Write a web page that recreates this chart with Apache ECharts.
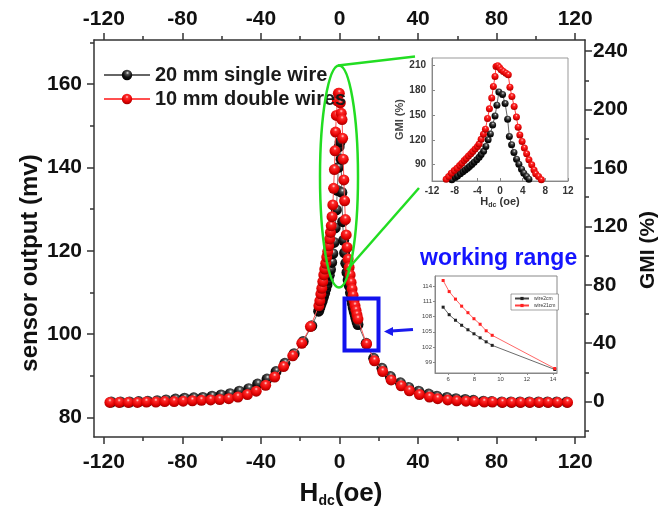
<!DOCTYPE html>
<html><head><meta charset="utf-8">
<script src="https://cdn.jsdelivr.net/npm/echarts@6/dist/echarts.min.js"></script>
<style>html,body{margin:0;padding:0;background:#fff}#c{width:661px;height:513px}</style>
</head><body><div id="c"></div>
<script>
// ---- main chart data: H_dc (oe) vs sensor output (mv)
const blackH = [-116.2,-111.5,-106.9,-102.2,-97.6,-92.8,-88.3,-83.5,-78.9,-74.2,-69.6,-64.9,-60.3,-55.7,-51.0,-46.2,-41.7,-36.9,-32.3,-27.8,-23.1,-18.5,-14.1,
  -10.6,-10.0,-9.4,-8.8,-8.2,-7.6,-7.0,-6.4,-5.8,-5.2,-4.6,-4.0,-3.4,-2.8,-2.2,-1.6,-1.1,-0.6,-0.2,0.3,0.8,1.2,1.6,2.1,2.6,3.2,3.8,4.4,5.0,5.6,6.1,6.6,7.0,7.5,8.0,8.4,8.9,9.4,
  13.6,17.4,21.6,25.9,31.0,35.2,40.3,45.4,49.6,54.7,59.3,64.0,68.2,73.3,77.5,82.6,87.3,91.9,96.6,101.3,105.9,110.6,115.7];
const blackMv = [83.7,83.7,83.7,83.8,83.9,84.0,84.2,84.4,84.6,84.7,84.8,85.1,85.4,85.7,86.3,86.9,88.0,89.2,91.0,93.0,95.3,98.2,102.0,
  105.5,106.4,107.2,108.0,108.9,109.8,110.8,111.8,112.9,114.1,115.5,117.2,119.3,122.0,125.5,129.8,134.5,140.0,145.0,146.1,142.0,134.0,127.0,122.5,119.5,117.0,114.8,113.0,111.6,109.9,108.4,107.3,106.3,105.4,104.6,103.8,103.0,102.3,
  97.8,94.2,91.8,89.8,88.3,87.2,86.3,85.6,85.1,84.8,84.5,84.3,84.1,83.9,83.8,83.7,83.7,83.7,83.7,83.7,83.7,83.7,83.7];
const redH = [-116.9,-112.2,-107.6,-102.9,-98.3,-93.5,-89.0,-84.2,-79.6,-74.9,-70.3,-65.6,-61.0,-56.4,-51.7,-46.9,-42.4,-37.6,-33.0,-28.5,-23.8,-19.2,-14.8,
  -10.5,-10.0,-9.5,-9.0,-8.5,-8.0,-7.5,-7.0,-6.5,-6.0,-5.5,-5.0,-4.6,-4.2,-3.8,-3.4,-3.0,-2.6,-2.3,-2.0,-1.6,-1.1,-0.6,-0.1,0.4,0.9,1.3,1.6,1.9,2.2,2.6,3.0,3.4,3.9,4.4,4.9,5.4,5.9,6.4,6.9,7.4,7.9,8.4,8.9,9.4,
  13.8,17.8,22.0,26.3,31.4,35.6,40.7,45.8,50.0,55.1,59.7,64.4,68.6,73.7,77.9,83.0,87.7,92.3,97.0,101.7,106.3,111.0,116.1];
const redMv = [83.6,83.6,83.6,83.6,83.7,83.7,83.8,83.8,83.9,84.0,84.1,84.2,84.3,84.5,84.9,85.5,86.3,87.7,89.7,92.2,94.8,97.8,101.8,
  106.8,108.0,109.6,111.0,112.6,114.2,115.6,117.0,118.5,119.8,121.2,122.8,124.4,126.0,128.2,131.0,135.0,139.5,144.0,148.5,152.5,156.0,157.8,157.8,155.5,153.0,151.5,147.0,142.0,137.0,132.0,127.5,123.8,120.8,118.0,116.0,114.2,112.4,110.8,109.3,108.0,106.8,105.7,104.6,103.6,
  97.6,93.6,91.0,89.0,87.6,86.4,85.5,84.9,84.5,84.2,84.0,83.9,83.8,83.7,83.7,83.6,83.6,83.6,83.6,83.6,83.6,83.6,83.6];

// ---- inset 1: GMI (%) vs H_dc near zero
const insRedH = [-10.0,-9.5,-9.06,-8.6,-8.07,-7.6,-7.13,-6.73,-6.32,-5.96,-5.56,-5.15,-4.8,-4.39,-3.98,-3.68,-3.33,-2.92,-2.57,-2.2,-1.87,-1.46,-1.17,-0.88,-0.7,-0.4,-0.1,0.2,0.6,1.05,1.46,1.75,2.1,2.5,2.9,3.2,3.5,3.9,4.3,4.7,5.1,5.6,6.0,6.3,6.8,7.3,7.8];
const insRedGMI = [67,72,75.4,79.5,82.7,85.5,88.8,91.6,94.9,97.3,100.5,103,105.8,109,111.9,115,120.8,126.9,133,146,157.7,170.7,184.9,197,209,210,208,205,203,201,199,184,172.7,160.5,147.6,135.4,126,118,110,103,95.7,89.6,83.5,78.7,75.4,71.4,67];
const insBlackH = [-9.2,-8.5,-7.9,-7.5,-7.0,-6.55,-6.14,-5.73,-5.38,-4.97,-4.56,-4.1,-3.68,-3.33,-2.9,-2.5,-2.1,-1.7,-1.3,-0.88,-0.55,-0.2,0.45,0.9,1.35,1.65,2.05,2.46,2.92,3.33,3.8,4.2,4.68,5.1,5.6,6.0];
const insBlackGMI = [67,71.4,74.2,76.2,78.7,81.1,83.5,85.5,87.6,90.0,92.8,95.7,98.9,102.2,106,112,120,127,138,149,162,178,175,164,145,124,114,104.6,96.5,90.4,84.3,79.5,75.4,72.2,68.5,66];

// ---- inset 2: working range
const wrH = [5.62,6.08,6.56,7.03,7.51,7.97,8.44,8.90,9.36,14.13];
const wrBlack = [109.9,108.4,107.3,106.3,105.4,104.6,103.8,103.0,102.3,97.5];
const wrRed = [115.2,113.0,111.5,110.1,108.8,107.6,106.5,105.2,104.3,97.7];

// ---- tick labels
const xTicks = [-120,-80,-40,0,40,80,120];
const xMinor = [-100,-60,-20,20,60,100];
const mvTicks = [80,100,120,140,160];
const mvMinor = [90,110,130,150,170];
const gmiTicks = [0,40,80,120,160,200,240];
const gmiMinor = [-20,20,60,100,140,180,220];
const ins1YTicks = [90,120,150,180,210];
const ins2XTicks = [6,8,10,12,14];
const ins2YTicks = [99,102,105,108,111,114];

const names = ['20 mm single wire','10 mm double wires'];
const wrNames = ['wire2cm','wire21cm'];

const FONT = '"Liberation Sans", Arial, sans-serif';
const AX = '#333';
const chart = echarts.init(document.getElementById('c'));

const redBall = new echarts.graphic.RadialGradient(0.5, 0.3, 0.7, [
  {offset:0,color:'#ffd8d8'},{offset:0.22,color:'#ff2a2a'},{offset:0.7,color:'#e00000'},{offset:1,color:'#9a0000'}]);
const blackBall = new echarts.graphic.RadialGradient(0.55, 0.3, 0.7, [
  {offset:0,color:'#f2f2f2'},{offset:0.22,color:'#555'},{offset:0.6,color:'#111'},{offset:1,color:'#000'}]);

function mainX(pos, margin){
  return {type:'value', gridIndex:0, position:pos, min:-125, max:125,
    axisLine:{show:true,onZero:false,lineStyle:{color:AX,width:1.5}},
    axisTick:{show:true,length:7,customValues:xTicks,lineStyle:{color:AX,width:1.5}},
    axisLabel:{customValues:xTicks,margin:margin,fontSize:21,fontWeight:'bold',color:'#111',fontFamily:FONT},
    splitLine:{show:false}};
}
function minorX(pos){
  return {type:'value', gridIndex:0, position:pos, min:-125, max:125,
    axisLine:{show:false,onZero:false}, axisTick:{show:true,length:4,customValues:xMinor,lineStyle:{color:AX,width:1.5}},
    axisLabel:{show:false}, splitLine:{show:false}};
}
function yAx(pos,min,max,ticks,margin){
  return {type:'value', gridIndex:0, position:pos, min:min, max:max,
    axisLine:{show:true,onZero:false,lineStyle:{color:AX,width:1.5}},
    axisTick:{show:true,length:7,customValues:ticks,lineStyle:{color:AX,width:1.5}},
    axisLabel:{customValues:ticks,margin:margin,fontSize:21,fontWeight:'bold',color:'#111',fontFamily:FONT},
    splitLine:{show:false}};
}
function minorY(pos,min,max,ticks){
  return {type:'value', gridIndex:0, position:pos, min:min, max:max,
    axisLine:{show:false,onZero:false}, axisTick:{show:true,length:4,customValues:ticks,lineStyle:{color:AX,width:1.5}},
    axisLabel:{show:false}, splitLine:{show:false}};
}

const option = {
  animation:false,
  backgroundColor:'#fff',
  grid:[
    {left:94, top:40, width:491, height:397},
    {left:432, top:58, width:136, height:123, show:true, borderColor:'#999', borderWidth:1, backgroundColor:'#fff', z:5},
    {left:435, top:276, width:122, height:97, show:true, borderColor:'#888', borderWidth:1, backgroundColor:'#fff', z:5}
  ],
  xAxis:[
    mainX('bottom',15), mainX('top',10), minorX('bottom'), minorX('top'),
    {type:'value', gridIndex:1, position:'bottom', min:-12, max:12, interval:4, z:6,
      axisLine:{onZero:false,lineStyle:{color:'#888'}}, axisTick:{inside:true,length:3,lineStyle:{color:'#888'}},
      axisLabel:{fontSize:10,fontWeight:'bold',color:'#333',margin:5,fontFamily:FONT},
      splitLine:{show:false},
      name:'{h|H}{s|dc}{h| (oe)}', nameLocation:'middle', nameGap:5,
      nameTextStyle:{rich:{h:{fontSize:11,fontWeight:'bold',color:'#333',fontFamily:FONT},
                           s:{fontSize:7,fontWeight:'bold',color:'#333',fontFamily:FONT,verticalAlign:'bottom',padding:[6,0,0,0]}}}},
    {type:'value', gridIndex:2, position:'bottom', min:5, max:14.3, z:6,
      axisLine:{onZero:false,lineStyle:{color:'#888'}}, axisTick:{inside:false,length:2,customValues:ins2XTicks,lineStyle:{color:'#888'}},
      axisLabel:{customValues:ins2XTicks,fontSize:6,color:'#444',margin:3,fontFamily:FONT},
      splitLine:{show:false}}
  ],
  yAxis:[
    yAx('left',75.3,170.6,mvTicks,12), minorY('left',75.3,170.6,mvMinor),
    yAx('right',-24.2,247.6,gmiTicks,8), minorY('right',-24.2,247.6,gmiMinor),
    {type:'value', gridIndex:1, position:'left', min:70, max:219.4, z:6,
      axisLine:{onZero:false,lineStyle:{color:'#888'}}, axisTick:{inside:true,length:3,customValues:ins1YTicks,lineStyle:{color:'#888'}},
      axisLabel:{customValues:ins1YTicks,fontSize:10,fontWeight:'bold',color:'#333',margin:6,fontFamily:FONT},
      splitLine:{show:false},
      name:'GMI (%)', nameLocation:'middle', nameGap:24, nameRotate:90,
      nameTextStyle:{fontSize:11,fontWeight:'bold',color:'#444',fontFamily:FONT}},
    {type:'value', gridIndex:2, position:'left', min:96.8, max:116.1, z:6,
      axisLine:{onZero:false,lineStyle:{color:'#888'}}, axisTick:{inside:false,length:2,customValues:ins2YTicks,lineStyle:{color:'#888'}},
      axisLabel:{customValues:ins2YTicks,fontSize:6,color:'#444',margin:3,fontFamily:FONT},
      splitLine:{show:false}}
  ],
  legend:[
    {data:names, orient:'vertical', left:98, top:60, itemWidth:46, itemHeight:13, itemGap:4,
      textStyle:{fontSize:20,fontWeight:'bold',color:'#1a1a1a',fontFamily:FONT}},
    {data:wrNames, orient:'vertical', left:511, top:294, itemWidth:14, itemHeight:4, itemGap:2, z:10,
      padding:[2,3], borderColor:'#666', borderWidth:0.6, backgroundColor:'#fff',
      textStyle:{fontSize:5,color:'#333',fontFamily:FONT}}
  ],
  series:[
    {type:'line', name:names[0], xAxisIndex:0, yAxisIndex:0, z:2,
      data: blackH.map((x,i)=>[x,blackMv[i]]), symbol:'circle', symbolSize:11,
      itemStyle:{color:blackBall}, lineStyle:{color:'#666',width:1}},
    {type:'line', name:names[1], xAxisIndex:0, yAxisIndex:0, z:3,
      data: redH.map((x,i)=>[x,redMv[i]]), symbol:'circle', symbolSize:11,
      itemStyle:{color:redBall}, lineStyle:{color:'#ff5050',width:1}},
    {type:'line', name:'ins-black', xAxisIndex:4, yAxisIndex:4, z:7,
      data: insBlackH.map((x,i)=>[x,insBlackGMI[i]]), symbol:'circle', symbolSize:7,
      itemStyle:{color:blackBall}, lineStyle:{color:'#666',width:1}},
    {type:'line', name:'ins-red', xAxisIndex:4, yAxisIndex:4, z:8,
      data: insRedH.map((x,i)=>[x,insRedGMI[i]]), symbol:'circle', symbolSize:7,
      itemStyle:{color:redBall}, lineStyle:{color:'#ff4040',width:1}},
    {type:'line', name:wrNames[0], xAxisIndex:5, yAxisIndex:5, z:7,
      data: wrH.map((x,i)=>[x,wrBlack[i]]), symbol:'rect', symbolSize:3,
      itemStyle:{color:'#222'}, lineStyle:{color:'#444',width:0.8}},
    {type:'line', name:wrNames[1], xAxisIndex:5, yAxisIndex:5, z:8,
      data: wrH.map((x,i)=>[x,wrRed[i]]), symbol:'rect', symbolSize:3,
      itemStyle:{color:'#ff2020'}, lineStyle:{color:'#ff4040',width:0.8}}
  ],
  graphic:[
    {type:'ellipse', z:50, shape:{cx:339, cy:176.5, rx:19, ry:111}, style:{fill:null, stroke:'#22dd22', lineWidth:2.5}},
    {type:'line', z:50, shape:{x1:338, y1:65.5, x2:415, y2:56.5}, style:{stroke:'#22dd22', lineWidth:2.5}},
    {type:'line', z:50, shape:{x1:347, y1:270, x2:419, y2:188}, style:{stroke:'#22dd22', lineWidth:2.5}},
    {type:'rect', z:50, shape:{x:344.5, y:298.5, width:34, height:52}, style:{fill:null, stroke:'#1212ee', lineWidth:4}},
    {type:'line', z:50, shape:{x1:413, y1:329.5, x2:391, y2:331}, style:{stroke:'#1a1aee', lineWidth:3}},
    {type:'polygon', z:50, shape:{points:[[384,331.5],[393,327],[393,336]]}, style:{fill:'#1a1aee'}},
    {type:'text', z:50, x:420, y:259, style:{text:'working range', fill:'#1414ff', font:'bold 23px "Liberation Sans", Arial, sans-serif', verticalAlign:'middle', align:'left'}},
    {type:'text', z:50, x:30, y:263, rotation:Math.PI/2, style:{text:'sensor output (mv)', fill:'#111', font:'bold 24px "Liberation Sans", Arial, sans-serif', align:'center', verticalAlign:'middle'}},
    {type:'text', z:50, x:648, y:250, rotation:Math.PI/2, style:{text:'GMI (%)', fill:'#111', font:'bold 21px "Liberation Sans", Arial, sans-serif', align:'center', verticalAlign:'middle'}},
    {type:'text', z:50, x:341, y:494, style:{text:'{h|H}{s|dc}{h|(oe)}', align:'center', verticalAlign:'middle',
      rich:{h:{fontSize:26,fontWeight:'bold',fill:'#111',fontFamily:FONT},
            s:{fontSize:14,fontWeight:'bold',fill:'#111',fontFamily:FONT,verticalAlign:'bottom',padding:[14,0,0,0]}}}}
  ]
};
chart.setOption(option);
</script>
</body></html>
